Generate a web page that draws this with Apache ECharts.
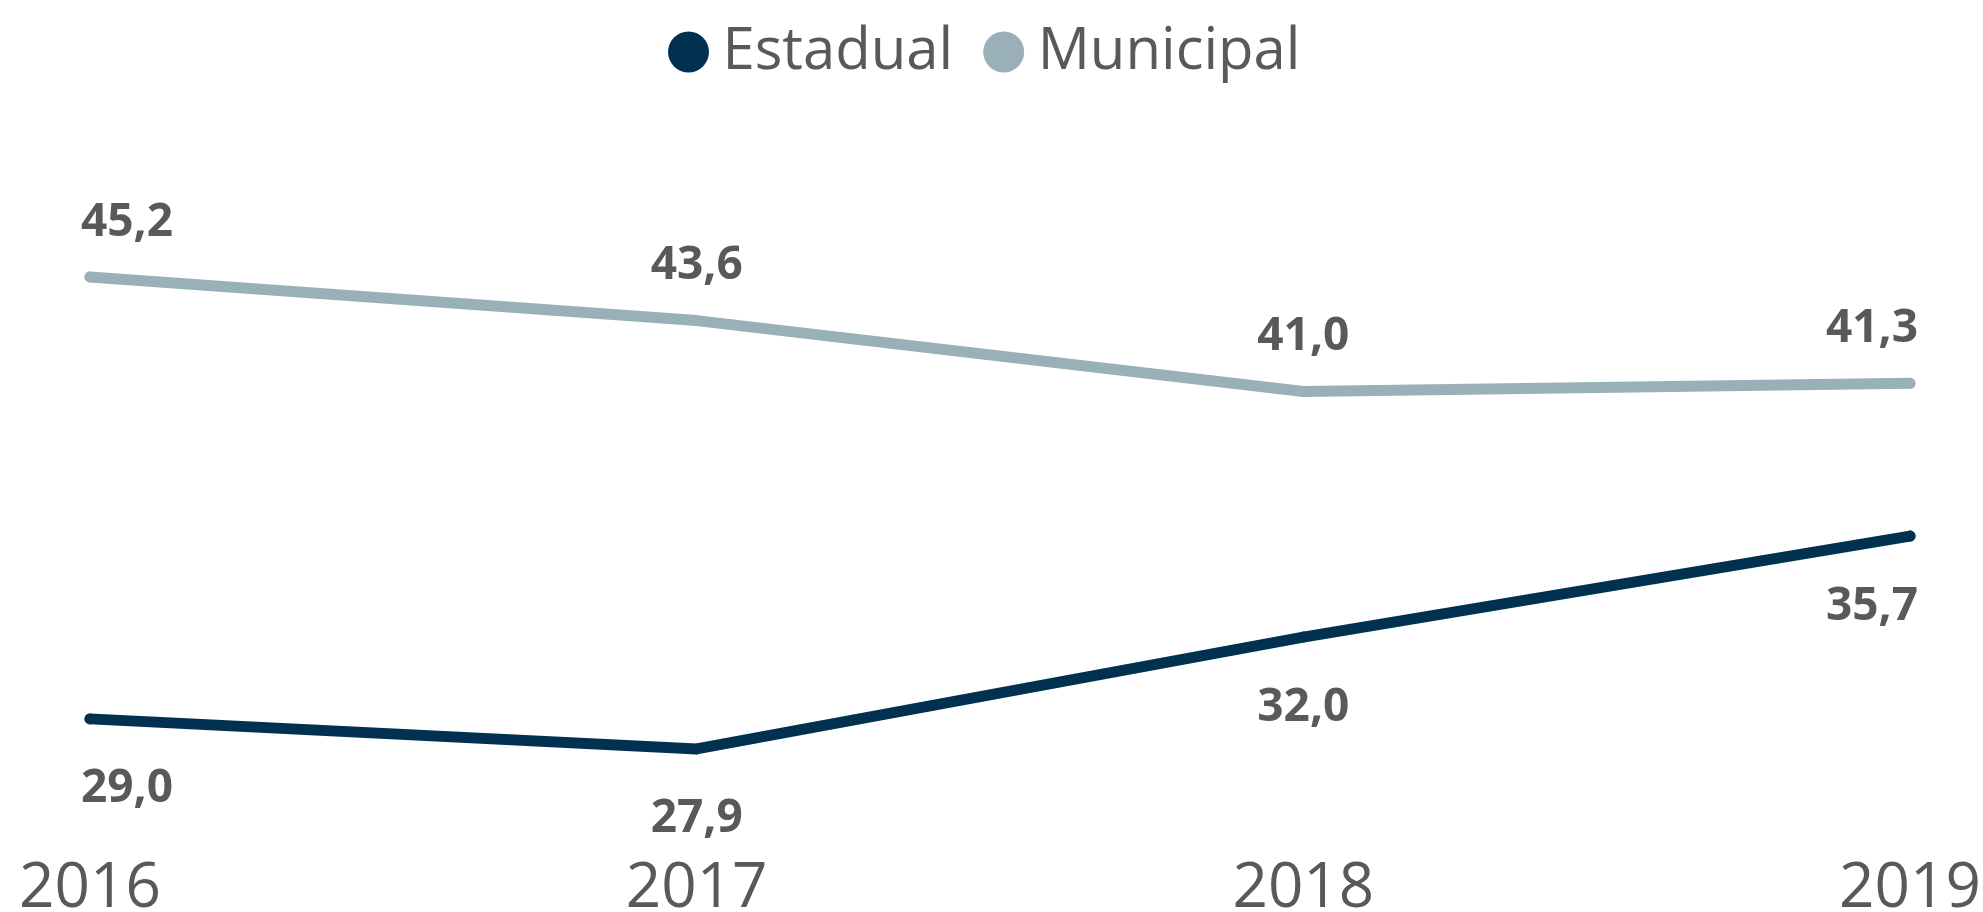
<!DOCTYPE html>
<html>
<head>
<meta charset="utf-8">
<title>Estadual x Municipal</title>
<script src="https://cdn.jsdelivr.net/npm/echarts@6/dist/echarts.min.js"></script>
<style>
  html, body { margin: 0; padding: 0; background: #fff; }
  #chart { width: 1983px; height: 912px; }
</style>
</head>
<body>
<div id="chart"></div>
<script>
// dados do gráfico
var anos = ['2016', '2017', '2018', '2019'];
var estadual = [29.0, 27.9, 32.0, 35.7];
var municipal = [45.2, 43.6, 41.0, 41.3];

var corTexto = '#595959';

// desloca o rótulo do primeiro e do último ponto para dentro
function comRotulos(valores) {
	return valores.map(function(v, i) {
		var dx = 0;
		if (i === 0) dx = 37;
		if (i === valores.length - 1) dx = -38;
		return { value: v, label: { offset: [dx, 0] } };
	});
}

function fmt(p) {
	return p.value.toFixed(1).replace('.', ',');
}

var myChart = echarts.init(document.getElementById('chart'));
var option = {
	animation: false,
	legend: {
		left: 663,
		top: 18,
		itemWidth: 42,
		itemHeight: 41,
		itemGap: 30,
		icon: 'circle',
		textStyle: {
			color: corTexto,
			fontSize: 58,
			fontFamily: 'Open Sans, sans-serif',
			padding: [0, 0, 0, 8]
		},
		data: ['Estadual', 'Municipal']
	},
	grid: { left: 90, right: 73, top: 146, bottom: 84, outerBoundsMode: 'none' },
	xAxis: {
		type: 'category',
		boundaryGap: false,
		data: anos,
		axisLine: { show: false },
		axisTick: { show: false },
		axisLabel: {
			color: corTexto,
			fontSize: 62,
			fontFamily: 'Open Sans, sans-serif',
			margin: 30
		}
	},
	yAxis: {
		type: 'value',
		min: 25,
		max: 50,
		show: false,
		splitLine: { show: false }
	},
	series: [{
		name: 'Estadual',
		type: 'line',
		data: comRotulos(estadual),
		color: '#003151',
		symbol: 'circle',
		symbolSize: 11,
		lineStyle: { width: 11, cap: 'round', join: 'round' },
		label: {
			show: true,
			position: 'bottom',
			distance: 42,
			color: corTexto,
			fontSize: 46,
			fontWeight: 'bold',
			fontFamily: 'Open Sans, sans-serif',
			formatter: fmt
		}
	}, {
		name: 'Municipal',
		type: 'line',
		data: comRotulos(municipal),
		color: '#9AB0B8',
		symbol: 'circle',
		symbolSize: 11,
		lineStyle: { width: 11, cap: 'round', join: 'round' },
		label: {
			show: true,
			position: 'top',
			distance: 26,
			color: corTexto,
			fontSize: 46,
			fontWeight: 'bold',
			fontFamily: 'Open Sans, sans-serif',
			formatter: fmt
		}
	}]
};
myChart.setOption(option);
</script>
</body>
</html>
